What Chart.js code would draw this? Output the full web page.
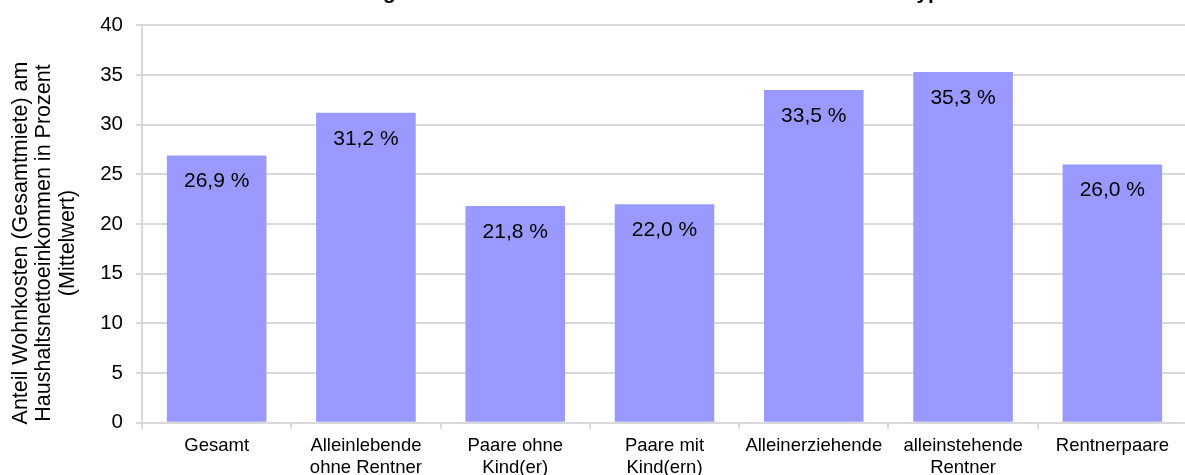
<!DOCTYPE html>
<html><head><meta charset="utf-8">
<script src="https://cdn.jsdelivr.net/npm/chart.js@4"></script>
<style>html,body{margin:0;padding:0;overflow:hidden;background:#fff}canvas{display:block}</style>
</head><body>
<canvas id="c" width="1188" height="475"></canvas>
<script>
const categories = [["Gesamt"],["Alleinlebende","ohne Rentner"],["Paare ohne","Kind(er)"],["Paare mit","Kind(ern)"],["Alleinerziehende"],["alleinstehende","Rentner"],["Rentnerpaare"]];
const values = [26.9, 31.2, 21.8, 22.0, 33.5, 35.3, 26.0];
const yMin = 0, yMax = 40, yStep = 5;
const yTitleLines = ["Anteil Wohnkosten (Gesamtmiete) am","Haushaltsnettoeinkommen in Prozent","(Mittelwert)"];
const titleText = "Wohnkostenbelastung der Mieterhaushalte in Deutschland nach Haushaltstyp";

const FONT = "'Liberation Sans', Arial, sans-serif";
Chart.defaults.font.family = FONT;
Chart.defaults.color = '#000';

const fmt = v => v.toFixed(1).replace('.', ',') + ' %';

const labelPlugin = {
  id: 'labels',
  afterDatasetsDraw(chart) {
    const ctx = chart.ctx;
    const meta = chart.getDatasetMeta(0);
    ctx.save();
    ctx.font = '21px ' + FONT;
    ctx.fillStyle = '#000';
    ctx.textAlign = 'center';
    ctx.textBaseline = 'middle';
    meta.data.forEach((bar, i) => {
      ctx.fillText(fmt(values[i]), bar.x, bar.y + 26);
    });
    ctx.restore();
  }
};

const textPlugin = {
  id: 'texts',
  afterDraw(chart) {
    const ctx = chart.ctx;
    ctx.save();
    // y axis title
    ctx.font = '21.5px ' + FONT;
    ctx.fillStyle = '#000';
    ctx.textAlign = 'center';
    ctx.textBaseline = 'middle';
    ctx.translate(0, 243);
    ctx.rotate(-Math.PI / 2);
    const xs = [21, 44.5, 68];
    yTitleLines.forEach((t, i) => ctx.fillText(t, 0, xs[i]));
    ctx.restore();
    // clipped chart title (only descenders visible)
    ctx.save();
    ctx.font = 'bold 20.7px ' + FONT;
    ctx.fillStyle = '#000';
    ctx.textAlign = 'left';
    ctx.textBaseline = 'alphabetic';
    const pre = ctx.measureText('Wohnkostenbelastun').width;
    ctx.fillText(titleText, 383 - pre, -1.5);
    ctx.restore();
  }
};

new Chart(document.getElementById('c'), {
  type: 'bar',
  data: {
    labels: categories,
    datasets: [{
      data: values,
      backgroundColor: '#9999ff',
      borderWidth: 0,
      barPercentage: 0.667,
      categoryPercentage: 1.0
    }]
  },
  options: {
    responsive: false,
    animation: false,
    layout: { padding: { top: 22.5, right: 1, bottom: 0, left: 0 } },
    plugins: { legend: { display: false }, tooltip: { enabled: false }, title: { display: false } },
    scales: {
      x: {
        grid: { display: true, offset: true, drawOnChartArea: false, drawTicks: true, tickLength: 6, color: '#d9d9d9', lineWidth: 2 },
        border: { display: true, color: '#d9d9d9', width: 2 },
        ticks: { font: { size: 18.5, lineHeight: 1.2 }, color: '#000', padding: 6, maxRotation: 0, autoSkip: false },
        afterFit(s) { s.height = 52.3; }
      },
      y: {
        min: yMin, max: yMax,
        ticks: { stepSize: yStep, font: { size: 20.5 }, color: '#000', padding: 13 },
        grid: { color: '#d9d9d9', lineWidth: 2, tickLength: 6 },
        border: { display: true, color: '#d9d9d9', width: 2 },
        afterFit(s) { s.width = 142; }
      }
    }
  },
  plugins: [labelPlugin, textPlugin]
});
</script>
</body></html>
